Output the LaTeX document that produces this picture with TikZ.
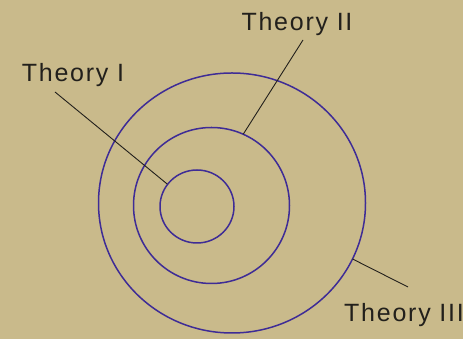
\documentclass[tikz,border=0pt]{standalone}
\usepackage{fontspec}
\setmainfont{Liberation Sans}
\newfontfamily\widesans[LetterSpace=7]{Liberation Sans}
\usepackage{tikz}
\usetikzlibrary{calc}

\definecolor{bgtan}{RGB}{201,186,139}
\definecolor{ringblue}{RGB}{62,44,150}
\definecolor{labelgray}{RGB}{34,32,28}

\tikzset{
    ring/.style={draw=ringblue, line width=1.5pt},
    leader/.style={draw=labelgray, line width=0.9pt},
    theorylabel/.style={text=labelgray, inner sep=0pt,
        font=\widesans\fontsize{25}{30}\selectfont}
}

\begin{document}
\begin{tikzpicture}[x=1pt, y=1pt]
    % 背景（ベージュ）
    \fill[bgtan] (0,0) rectangle (463,339);
    \useasboundingbox (0,0) rectangle (463,339);
    % 円の中心
    \coordinate (cI)   at (197,132.5);
    \coordinate (cII)  at (211.5,133.5);
    \coordinate (cIII) at (232,136);
    % 三つの円（内側から）
    \foreach \c/\rx/\ry in {cI/37/36.5, cII/78/78, cIII/133.5/130} {
        \draw[ring] (\c) ellipse [x radius=\rx, y radius=\ry];
    }
    % ラベル
    \node[theorylabel] (thI)   at (73,264)  {Theory I};
    \node[theorylabel] (thII)  at (297,315) {Theory II};
    \node[theorylabel] (thIII) at (404,24)  {Theory III};
    % 引き出し線の端（ラベル側）
    \coordinate (tipI)   at (55,247);
    \coordinate (tipII)  at (303,299);
    \coordinate (tipIII) at (408,52);
    % 引き出し線の端（円側）
    \coordinate (onI)   at ($(cI)+(143:37)$);
    \coordinate (onII)  at ($(cII)+(66:78)$);
    \coordinate (onIII) at ($(cIII)+({133.5*cos(-25.5)},{130*sin(-25.5)})$);
    % 引き出し線
    \draw[leader] (tipI) -- (onI);
    \draw[leader] (tipII) -- (onII);
    \draw[leader] (onIII) -- (tipIII);
\end{tikzpicture}
\end{document}
